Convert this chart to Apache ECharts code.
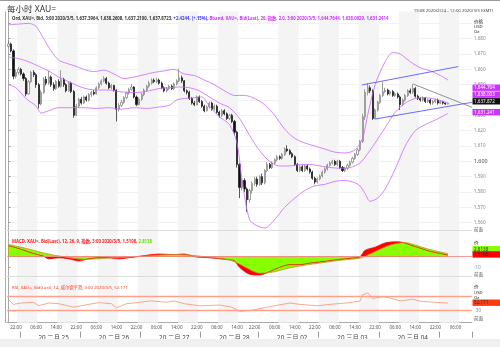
<!DOCTYPE html>
<html><head><meta charset="utf-8">
<script src="https://cdn.jsdelivr.net/npm/echarts@6/dist/echarts.min.js"></script>
<style>html,body{margin:0;padding:0;background:#fff}#c{width:500px;height:347px}</style>
</head><body><div id="c"></div>
<script>
// ---------- DATA ----------
const timeSegments = [['2020-02-24T19:00:00Z','2020-02-28T20:00:00Z'],['2020-03-01T22:00:00Z','2020-03-05T12:00:00Z']];
const hourLabels = ['22','06','14'];
const dayDates = ['2020-02-25','2020-02-26','2020-02-27','2020-02-28','2020-03-02','2020-03-03','2020-03-04'];
const dayLabels = ['20 二月 25','20 二月 26','20 二月 27','20 二月 28','20 三月 02','20 三月 03','20 三月 04'];
// [open, close, low, high]
const ohlc = [
[1675.0,1676.5,1674.0,1679.0],[1676.5,1672.0,1671.0,1677.5],[1672.0,1655.5,1653.5,1673.0],[1655.5,1658.0,1654.0,1660.0],
[1658.0,1660.0,1656.5,1661.5],[1660.0,1657.0,1656.0,1661.0],[1657.0,1654.0,1652.5,1658.0],[1654.0,1644.0,1642.5,1655.0],
[1644.0,1652.0,1643.5,1653.0],[1652.0,1658.0,1651.0,1659.0],[1658.0,1656.5,1655.0,1659.5],[1656.5,1650.0,1648.0,1657.5],
[1650.0,1637.5,1634.5,1651.0],[1637.5,1645.0,1636.5,1646.5],[1645.0,1653.5,1644.0,1655.0],[1653.5,1651.0,1649.5,1655.5],
[1651.0,1655.0,1650.0,1659.0],[1655.0,1650.0,1648.5,1656.0],[1650.0,1647.5,1646.0,1651.5],[1647.5,1652.0,1646.5,1653.0],
[1652.0,1649.0,1648.0,1653.5],[1649.0,1653.5,1648.0,1659.5],[1653.5,1650.0,1648.5,1654.5],[1650.0,1646.0,1645.0,1651.0],
[1646.0,1651.0,1645.5,1652.0],[1651.0,1645.5,1644.5,1652.0],[1645.5,1630.0,1628.5,1646.5],[1630.0,1636.0,1629.5,1637.5],
[1636.0,1640.5,1635.0,1641.5],[1640.5,1638.0,1637.0,1642.0],[1638.0,1642.0,1637.5,1643.0],[1642.0,1640.0,1639.0,1643.0],
[1640.0,1643.5,1639.0,1644.5],[1643.5,1645.0,1642.0,1646.0],[1645.0,1644.0,1643.0,1646.5],[1644.0,1648.0,1643.5,1649.0],
[1648.0,1650.5,1647.0,1651.5],[1650.5,1652.5,1649.5,1653.5],[1652.5,1654.0,1651.5,1655.5],[1654.0,1651.0,1650.0,1655.0],
[1651.0,1648.0,1647.0,1652.0],[1648.0,1649.5,1647.0,1650.5],[1649.5,1646.5,1645.5,1650.0],[1646.5,1634.0,1626.0,1647.0],
[1634.0,1636.5,1632.5,1638.0],[1636.5,1638.5,1635.5,1640.0],[1638.5,1641.5,1637.5,1642.5],[1641.5,1644.5,1640.5,1645.5],
[1644.5,1647.0,1643.5,1648.0],[1647.0,1648.5,1646.0,1650.5],[1648.5,1642.0,1641.0,1649.0],[1642.0,1637.0,1636.0,1643.0],
[1637.0,1640.5,1636.5,1641.5],[1640.5,1643.5,1639.5,1644.5],[1643.5,1646.5,1642.5,1647.5],[1646.5,1649.0,1645.5,1650.0],
[1649.0,1651.0,1648.0,1652.5],[1651.0,1653.0,1650.0,1654.0],[1653.0,1652.0,1651.0,1654.0],[1652.0,1653.0,1651.0,1654.5],
[1653.0,1651.0,1650.0,1654.0],[1651.0,1648.0,1647.0,1652.0],[1648.0,1646.0,1645.0,1649.0],[1646.0,1647.5,1645.0,1648.5],
[1647.5,1649.0,1646.5,1650.0],[1649.0,1647.5,1646.5,1650.0],[1647.5,1650.5,1646.5,1651.5],[1650.5,1652.5,1649.5,1653.5],
[1652.5,1654.5,1651.5,1660.5],[1654.5,1652.5,1651.0,1656.0],[1652.5,1646.0,1645.0,1653.0],[1646.0,1645.0,1643.5,1647.0],
[1645.0,1641.0,1640.0,1646.0],[1641.0,1638.0,1637.0,1642.0],[1638.0,1637.0,1636.0,1639.5],[1637.0,1642.0,1636.5,1643.0],
[1642.0,1639.0,1638.0,1643.0],[1639.0,1636.0,1635.0,1640.0],[1636.0,1633.0,1632.0,1637.0],[1633.0,1635.5,1632.5,1636.5],
[1635.5,1638.0,1634.5,1639.0],[1638.0,1634.0,1633.0,1639.0],[1634.0,1636.0,1633.0,1637.0],[1636.0,1632.0,1631.0,1637.0],
[1632.0,1630.0,1628.5,1633.0],[1630.0,1633.0,1629.0,1634.0],[1633.0,1631.0,1630.0,1634.0],[1631.0,1628.0,1627.0,1632.0],
[1628.0,1630.0,1627.0,1631.0],[1630.0,1626.0,1625.0,1631.0],[1626.0,1619.0,1617.0,1627.0],[1619.0,1598.0,1596.0,1620.0],
[1598.0,1583.0,1576.0,1599.0],[1583.0,1587.5,1581.0,1589.0],[1587.5,1582.0,1580.0,1589.0],[1582.0,1575.0,1567.0,1583.0],
[1575.0,1581.0,1573.0,1582.0],[1581.0,1585.5,1579.0,1587.0],[1585.5,1588.5,1584.0,1590.0],[1588.5,1585.0,1583.5,1590.0],
[1585.0,1590.0,1584.0,1591.0],[1590.0,1586.0,1584.5,1592.0],[1586.0,1594.0,1585.0,1595.0],[1594.0,1598.0,1593.0,1599.5],
[1598.0,1596.0,1595.0,1599.0],[1596.0,1599.0,1595.0,1600.0],[1599.0,1601.0,1598.0,1602.0],[1601.0,1603.0,1600.0,1604.0],
[1603.0,1602.0,1601.0,1604.0],[1602.0,1604.5,1601.0,1605.5],[1604.5,1608.0,1603.5,1609.0],[1608.0,1607.0,1606.0,1610.5],
[1607.0,1605.0,1604.0,1608.0],[1605.0,1603.0,1602.0,1606.0],[1603.0,1598.0,1597.0,1604.0],[1598.0,1594.0,1593.0,1599.0],
[1594.0,1596.5,1593.0,1597.5],[1596.5,1594.0,1593.0,1597.5],[1594.0,1597.0,1593.0,1598.0],[1597.0,1595.0,1594.0,1598.0],
[1595.0,1593.0,1592.0,1596.0],[1593.0,1589.0,1588.0,1594.0],[1589.0,1586.5,1585.0,1590.0],[1586.5,1588.5,1585.5,1589.5],
[1588.5,1590.5,1587.5,1591.5],[1590.5,1593.0,1589.5,1594.0],[1593.0,1595.0,1592.0,1596.0],[1595.0,1597.5,1594.0,1598.5],
[1597.5,1599.0,1596.5,1600.0],[1599.0,1600.0,1598.0,1601.0],[1600.0,1598.0,1597.0,1601.0],[1598.0,1600.0,1597.0,1601.0],
[1600.0,1596.0,1595.0,1601.0],[1596.0,1594.0,1593.0,1597.0],[1594.0,1595.5,1593.0,1596.5],[1595.5,1597.5,1594.5,1598.5],
[1597.5,1599.5,1596.5,1600.5],[1599.5,1602.0,1598.5,1603.0],[1602.0,1604.5,1601.0,1605.5],[1604.5,1607.5,1603.5,1608.5],
[1607.5,1613.0,1606.5,1614.0],[1613.0,1629.0,1612.0,1631.0],[1629.0,1645.0,1627.0,1647.0],[1645.0,1648.0,1643.0,1651.0],
[1648.0,1646.0,1644.5,1649.5],[1646.0,1628.0,1627.0,1647.0],[1628.0,1633.5,1627.5,1634.5],[1633.5,1638.5,1632.5,1639.5],
[1638.5,1643.0,1637.5,1644.0],[1643.0,1645.5,1642.0,1652.0],[1645.5,1646.5,1644.5,1648.0],[1646.5,1644.0,1643.0,1647.5],
[1644.0,1645.5,1643.0,1646.5],[1645.5,1643.0,1642.0,1646.5],[1643.0,1644.0,1642.0,1645.0],[1644.0,1642.0,1641.0,1645.0],
[1642.0,1637.0,1633.5,1643.0],[1637.0,1640.0,1636.0,1641.0],[1640.0,1643.0,1639.0,1644.0],[1643.0,1646.0,1642.0,1647.0],
[1646.0,1645.0,1644.0,1647.5],[1645.0,1647.5,1644.0,1650.5],[1647.5,1642.5,1641.5,1648.5],[1642.5,1641.0,1640.0,1643.5],
[1641.0,1640.0,1639.0,1642.0],[1640.0,1641.5,1639.0,1642.5],[1641.5,1639.0,1638.0,1642.0],[1639.0,1640.0,1638.0,1641.0],
[1640.0,1638.0,1637.0,1641.0],[1638.0,1639.0,1637.0,1640.0],[1639.0,1640.0,1638.0,1641.0],[1640.0,1638.0,1637.0,1641.0],
[1638.0,1639.0,1637.5,1640.0],[1639.0,1638.0,1637.0,1639.5],[1638.0,1637.4,1636.8,1638.5],[1637.3964,1637.8723,1637.21,1638.2608]
];
// Bollinger bands [barIndex, value]
const bbUpper = [[0,1689],[4,1689.5],[8,1690],[11,1688],[14,1680],[17,1672],[20,1666],[23,1664],[26,1662.5],[30,1660],[34,1658.5],[38,1659.5],[42,1657],[46,1654],[50,1655],[54,1656.5],[58,1658],[62,1659],[66,1660],[70,1657],[74,1656],[78,1653],[82,1650],[86,1646],[90,1643],[94,1643],[98,1641],[102,1637],[106,1630],[110,1621],[114,1615],[118,1612],[122,1610],[126,1608],[130,1606],[134,1605.5],[138,1607.5],[141,1615],[143,1630],[146,1650],[150,1665],[153,1671],[156,1670],[160,1665],[164,1661],[168,1659],[172,1656],[175,1653]];
const bbMiddle = [[0,1668],[4,1667],[8,1665],[12,1662],[16,1659],[20,1655],[24,1652],[28,1649],[32,1647],[36,1646.5],[40,1646.5],[44,1645.5],[48,1645],[52,1645],[56,1646],[60,1647.5],[64,1648],[68,1648.5],[72,1648],[76,1646],[80,1642],[84,1638],[88,1635],[92,1628],[96,1617],[100,1607],[104,1600],[108,1597],[112,1597],[116,1598],[120,1598],[124,1597],[128,1596],[132,1595.5],[136,1596],[140,1599],[143,1605],[146,1612],[150,1622],[154,1632],[158,1638],[162,1641],[166,1641.5],[170,1640.5],[175,1638]];
const bbLower = [[0,1650],[3,1648],[7,1641],[11,1636],[13,1631.5],[16,1633],[20,1635],[25,1635],[30,1635],[35,1634.5],[40,1635],[45,1634],[50,1635],[55,1634.5],[60,1635.5],[64,1636.5],[67,1640],[70,1641],[74,1641.5],[77,1642],[80,1636],[84,1629],[88,1624],[91,1612],[93,1588],[96,1562],[99,1558],[102,1556.5],[106,1562],[110,1570],[114,1576],[118,1581],[122,1584],[126,1585],[130,1587],[134,1587.5],[138,1586],[140,1584],[142,1579],[144,1574],[147,1576],[150,1582],[154,1595],[158,1610],[162,1620],[166,1624],[170,1627],[175,1631.24]];
// drawn trend lines [barIndex, price]
const trendUpper = [[140.7,1649.8],[179.1,1661.8]];
const trendLower = [[146,1627.6],[184.5,1638.5]];
const trendGray = [[161.2,1650.4],[184.5,1635.3]];
// MACD [barIndex, value]
const macdLine = [[0,10.5],[5,7],[10,3],[14,0.5],[16,-2],[20,-1],[24,-2],[28,-4],[32,-2],[38,-0.5],[44,-2],[48,-1],[54,1],[60,2.5],[66,2],[70,2.5],[74,0],[80,-1],[86,-2.5],[90,-4],[92,-10],[96,-16.5],[100,-17.3],[104,-14],[108,-10],[112,-7.5],[116,-7.5],[120,-6],[124,-5],[130,-3],[136,-1.5],[140,0],[142,6],[146,9],[150,13],[154,14],[157,13.5],[160,11],[164,8],[168,5],[172,3],[175,1.5198]];
const signalLine = [[0,11.5],[5,9],[10,6],[14,3.5],[18,1.5],[22,0],[26,-1.5],[30,-2.5],[36,-2],[42,-1],[48,-0.5],[54,0.5],[60,1.5],[66,2],[72,1.5],[78,0],[84,-1.5],[88,-3],[92,-7],[96,-12],[100,-15.5],[104,-15],[108,-13],[112,-10.5],[118,-8],[124,-6],[130,-4],[136,-2.5],[140,-1.5],[144,2.5],[148,7],[152,11],[156,13],[158,13.3],[162,11],[166,8],[170,5.5],[175,2.8138]];
// RSI [barIndex, value]
const rsiLine = [[0,62],[2,48],[5,52],[10,54],[12,44],[16,52],[20,50],[26,40],[31,47],[36,53],[41,50],[43,38],[47,50],[52,54],[57,58],[63,54],[66,58],[70,50],[76,44],[84,46],[89,40],[92,28],[96,30],[103,40],[112,52],[116,48],[123,44],[128,48],[136,53],[140,58],[141,75],[143,81],[145,65],[149,70],[152,66],[156,58],[161,63],[164,57],[168,55],[172,53],[175,52.171]];
const rsiLevels = [70,30];
// alternating shaded 8-hour columns [fromBar, toBar]
const shadedColumns = [[3.5,11.5],[19.5,27.5],[35.5,43.5],[51.5,59.5],[67.5,75.5],[83.5,91.5],[107.5,115.5],[123.5,131.5],[139.5,147.5],[155.5,163.5],[171.5,179.5]];

// ---------- BUILD ----------
const categories = [];
timeSegments.forEach(([a,b])=>{for(let t=Date.parse(a);t<=Date.parse(b);t+=3600000){categories.push(new Date(t).toISOString().slice(0,13));}});
const N = categories.length;

const L = 7.2, R = 28.2;
const FONT = '"Noto Sans","Noto Sans CJK SC",sans-serif';
const chart = echarts.init(document.getElementById('c'), null, {renderer:'canvas'});
const hidX = (gi)=>({type:'value',gridIndex:gi,min:-0.5,max:N-0.5,show:false});
const vio = '#cc66ff';
const option = {
  animation:false,
  backgroundColor:'#fff',
  textStyle:{fontFamily:FONT},
  title:[
    {text:'每小时 XAU=',left:2,top:0,textStyle:{fontSize:8.5,fontWeight:'normal',color:'#333',fontFamily:FONT}},
    {text:'19:08 2020/2/24 - 12:00 2020/3/5 (GMT)',right:2,top:4,textStyle:{fontSize:4.3,fontWeight:'normal',color:'#444',fontFamily:FONT}},
    {text:'{k|Ord, XAU=, Bid, 3:00 2020/3/5, 1,637.3964, 1,638.2608, 1,637.2100, 1,637.8723, }{b|+2.4244, (+.15%), }{v|Bband, XAU=, Bid(Last), 20, 指数, 2.0, 3:00 2020/3/5, 1,644.7644, 1,638.0029, 1,631.2414}',
     left:7,top:12,textStyle:{fontSize:4.3,rich:{k:{fontSize:4.3,color:'#333'},b:{fontSize:4.3,color:'#3333ff'},v:{fontSize:4.3,color:'#cc33ff'}}}},
    {text:'{r|MACD, XAU=, Bid(Last), 12, 26, 9, 指数, 3:00 2020/3/5, 1.5198, }{g|2.8138}',left:7,top:235,textStyle:{fontSize:4.3,rich:{r:{fontSize:4.3,color:'#ff2020'},g:{fontSize:4.3,color:'#66dd00'}}}},
    {text:'RSI, XAU=, Bid(Last), 14, 威尔德平滑, 3:00 2020/3/5, 52.171',left:7,top:280.5,textStyle:{fontSize:4.3,fontWeight:'normal',color:'#ff4020'}}
  ],
  grid:[
    {left:L,right:R,top:11.5,bottom:24.3},
    {left:L,right:R,top:23.35,height:199.35},
    {left:L,right:R,top:246.1,height:21.2},
    {left:L,right:R,top:296.7,height:14}
  ],
  xAxis:[
    {type:'category',gridIndex:0,data:categories,boundaryGap:true,
     axisLine:{show:true,lineStyle:{color:'#aaa',width:1}},axisTick:{show:false},
     axisLabel:{interval:(i,v)=>hourLabels.includes(v.slice(11,13)),formatter:v=>v.slice(11,13)+':00',fontSize:4.5,color:'#555',margin:3}},
    {type:'category',gridIndex:0,data:categories,boundaryGap:true,position:'bottom',offset:9,
     axisLine:{show:false},
     axisTick:{show:true,interval:(i,v)=>v.slice(11,13)==='00',length:6,lineStyle:{color:'#999'}},
     axisLabel:{interval:(i,v)=>v.slice(11,13)==='13',formatter:v=>{const k=dayDates.indexOf(v.slice(0,10));return k>=0?dayLabels[k]:'';},fontSize:6.3,color:'#444',margin:3}},
    hidX(0),
    {type:'category',gridIndex:1,data:categories,boundaryGap:true,show:false},
    hidX(1), hidX(2), hidX(3)
  ],
  yAxis:[
    {type:'value',gridIndex:0,min:0,max:1,position:'right',axisLine:{show:true,lineStyle:{color:'#aaa'}},axisTick:{show:false},axisLabel:{show:false},splitLine:{show:false}},
    {type:'value',gridIndex:1,min:1560,max:1690,interval:10,position:'right',axisLine:{show:false},
     axisTick:{show:true,length:2,lineStyle:{color:'#999'}},
     axisLabel:{margin:2,fontSize:4.6,color:'#888',formatter:v=>v===1690?'':(v===1600?'{b|1,600}':v.toLocaleString('en-US')),rich:{b:{fontSize:5.4,color:'#444'}}},
     splitLine:{show:true,lineStyle:{color:'#eeeeee',width:0.8}}},
    {type:'value',gridIndex:2,min:-10,max:10,interval:10,position:'right',axisLine:{show:false},
     axisTick:{show:true,length:2,lineStyle:{color:'#999'}},
     axisLabel:{margin:2,fontSize:4.6,color:'#888',formatter:v=>v===-10?'-10':''},splitLine:{show:false}},
    {type:'value',gridIndex:3,min:30,max:70,interval:10,position:'right',axisLine:{show:false},
     axisTick:{show:false},
     axisLabel:{margin:4,fontSize:4.6,color:'#888',formatter:v=>v===30?'30':''},splitLine:{show:false}}
  ],
  series:[
    {type:'line',xAxisIndex:2,yAxisIndex:0,data:[],silent:true,
     markArea:{silent:true,itemStyle:{color:'#f4f4f4'},data:shadedColumns.map(g=>[{xAxis:g[0]},{xAxis:g[1]}])}},
    {type:'candlestick',xAxisIndex:3,yAxisIndex:1,data:ohlc,barWidth:1.6,clip:false,
     itemStyle:{color:'#ffffff',borderColor:'#777',color0:'#111',borderColor0:'#111',borderWidth:0.7}},
    {type:'line',xAxisIndex:4,yAxisIndex:1,data:bbUpper,symbol:'none',smooth:0.3,clip:false,lineStyle:{color:vio,width:0.8}},
    {type:'line',xAxisIndex:4,yAxisIndex:1,data:bbMiddle,symbol:'none',smooth:0.3,clip:false,lineStyle:{color:vio,width:0.8}},
    {type:'line',xAxisIndex:4,yAxisIndex:1,data:bbLower,symbol:'none',smooth:0.3,clip:false,lineStyle:{color:vio,width:0.8}},
    {type:'line',xAxisIndex:4,yAxisIndex:1,data:trendUpper,symbol:'none',clip:false,lineStyle:{color:'#5a5aff',width:0.9}},
    {type:'line',xAxisIndex:4,yAxisIndex:1,data:trendLower,symbol:'none',clip:false,lineStyle:{color:'#5a5aff',width:0.9}},
    {type:'line',xAxisIndex:4,yAxisIndex:1,data:trendGray,symbol:'none',clip:false,lineStyle:{color:'#777',width:0.8}},
    {type:'line',xAxisIndex:5,yAxisIndex:2,data:macdLine,symbol:'none',smooth:0.3,clip:false,lineStyle:{color:'#ff0000',width:0.8},areaStyle:{color:'#ff0000',opacity:1,origin:0},
     markLine:{silent:true,symbol:'none',label:{show:false},lineStyle:{color:'#f08080',width:0.8,type:'solid'},data:[{yAxis:0}]}},
    {type:'line',xAxisIndex:5,yAxisIndex:2,data:signalLine,symbol:'none',smooth:0.3,clip:false,lineStyle:{color:'#c09030',width:0.8},areaStyle:{color:'#88ff00',opacity:1,origin:0}},
    {type:'line',xAxisIndex:6,yAxisIndex:3,data:rsiLine,symbol:'none',clip:false,lineStyle:{color:'#ff8060',width:0.7},
     markLine:{silent:true,symbol:'none',label:{show:false},lineStyle:{color:'#ffa08c',width:1.3,type:'solid'},data:rsiLevels.map(v=>({yAxis:v}))}}
  ]
};
chart.setOption(option);

// fixed frame / label boxes
const g = [];
const line=(x1,y1,x2,y2,c,w)=>g.push({type:'line',silent:true,z:50,shape:{x1,y1,x2,y2},style:{stroke:c,lineWidth:w||1}});
const txt=(x,y,t,fs,c)=>g.push({type:'text',silent:true,z:60,x,y,style:{text:t,font:fs+'px '+FONT,fill:c,textVerticalAlign:'middle'}});
const box=(y,t,bg,fg)=>{g.push({type:'rect',silent:true,z:55,shape:{x:472.5,y:y-3.2,width:27.5,height:6.4},style:{fill:bg}});txt(474,y,t,4.6,fg);};
line(0,0.5,500,0.5,'#999',1);
line(5.5,11.5,5.5,323,'#aaa',1);
line(5,230.5,472,230.5,'#ddd',1);
line(5,276.5,472,276.5,'#ddd',1);
g.push({type:'rect',silent:true,z:1,shape:{x:0,y:339,width:500,height:8},style:{fill:'#f0f0f0'}});
txt(474,21.5,'价格',4.5,'#222');txt(474,26.5,'USD',4.3,'#222');txt(474,31.5,'Oz',4.3,'#222');
box(87.7,'1,644.764','#cc33ff','#fff');
box(94.7,'1,638.003','#cc33ff','#fff');
box(101.3,'1,637.872','#111','#fff');
box(112.2,'1,631.241','#cc33ff','#fff');
txt(474,229.5,'前面',4.5,'#555');
txt(474,243,'价',4.5,'#222');
box(249.2,'2.8138','#88ff00','#333');
box(254.4,'1.5198','#ff0000','#333');
txt(474,274.5,'前面',4.5,'#555');
txt(474,287,'价',4.5,'#222');txt(474,292.5,'USD',4.3,'#222');txt(474,297.5,'Oz',4.3,'#222');
box(302.7,'52.171','#ff3a10','#333');
txt(474,319,'前面',4.5,'#555');
chart.setOption({graphic:g});
</script></body></html>
